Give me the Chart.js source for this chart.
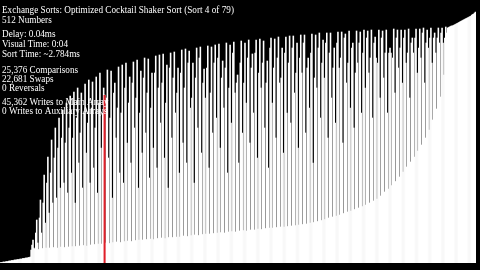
<!DOCTYPE html>
<html>
<head>
<meta charset="utf-8">
<script src="https://cdn.jsdelivr.net/npm/chart.js@4"></script>
<style>
  html, body { margin: 0; padding: 0; background: #000; }
  canvas { display: block; background: #000; }
</style>
</head>
<body>
<canvas id="sortChart" width="480" height="270"></canvas>
<script>
// sorted small values at the left end
const leftSorted = [1,1,1,2,2,2,3,3,3,4,4,4,5,5,5,6,6,6,7,7,7,8,8,8,9,9,9,10,10,10,11,11,12];

// unsorted middle part, read group by group (4 bars per group)
const lowVals = [
  26,28,27,29,30,30,31,30,32,31,
  32,33,33,34,35,34,36,37,38,38,
  40,39,41,42,41,43,44,43,45,46,
  46,47,48,47,49,50,49,51,51,52,
  52,54,53,55,56,55,57,58,58,59,
  60,61,60,62,63,62,64,65,64,66,
  66,68,67,69,70,70,71,72,72,73,
  74,75,76,77,78,80,81,83,85,87,
  90,92,94,96,99,102,104,107,110,113,
  116,120,124,128,134,142,148,155,163,172,
  182,192,202,212,224,236,250,266,286,308,
  332,376
];
const spikeVals = [
  46,86,126,176,212,246,270,290,306,320,
  334,342,350,340,358,366,362,372,380,350,
  386,384,360,392,396,400,372,402,406,384,
  410,408,380,414,416,418,396,420,422,390,
  426,428,424,400,430,432,388,434,432,436,
  438,404,440,436,442,376,444,440,446,418,
  446,448,444,404,450,448,452,430,452,454,
  454,440,456,456,410,458,456,460,446,460,
  460,430,462,462,458,464,440,464,462,466,
  464,466,452,466,464,466,430,468,466,466,
  466,468,450,468,468,470,466,470,460,470,
  470,472
];
const midAVals = [
  36,60,90,120,160,180,210,230,250,240,
  270,250,290,260,300,280,310,270,320,300,
  330,290,340,310,300,350,320,360,330,300,
  370,340,310,380,350,360,320,390,370,340,
  380,350,400,330,370,410,360,390,340,400,
  410,370,390,350,420,360,400,360,410,390,
  420,380,400,360,430,390,410,370,420,400,
  430,380,410,440,390,420,370,430,400,440,
  420,390,440,410,450,400,430,380,440,420,
  450,410,440,400,450,420,420,410,450,430,
  450,420,440,450,430,460,440,450,450,450,
  460,450
];
const midBVals = [
  30,40,60,80,100,120,130,150,160,140,
  180,120,200,150,220,160,190,140,230,336,
  210,130,250,180,160,240,200,270,150,220,
  260,170,230,190,280,210,150,250,300,180,
  240,200,310,160,270,220,330,190,260,290,
  230,310,180,280,340,200,260,320,240,300,
  210,350,270,190,320,250,360,220,300,280,
  340,230,380,260,310,200,350,290,370,250,
  330,280,390,240,360,310,270,400,300,350,
  380,290,410,330,370,300,420,340,390,360,
  400,330,420,380,410,360,430,400,420,440,
  440,460
];

// sorted large values at the right end
const rightSorted = [470,471,472,473,474,474,475,476,477,478,479,480,481,482,483,484,485,486,487,488,489,490,491,492,493,494,496,497,498,500,502];

const markedIndex = 112;

const statLines = [
  'Exchange Sorts: Optimized Cocktail Shaker Sort (Sort 4 of 79)',
  '512 Numbers',
  'Delay: 0.04ms',
  'Visual Time: 0:04',
  'Sort Time: ~2.784ms',
  '25,376 Comparisons',
  '22,681 Swaps',
  '0 Reversals',
  '45,362 Writes to Main Array',
  '0 Writes to Auxiliary Arrays'
];

// build the array as the visualizer holds it
const values = [...leftSorted];
for (let i = 0; i < lowVals.length; i++) {
  values.push(lowVals[i], midAVals[i], spikeVals[i], midBVals[i]);
}
values.push(...rightSorted);
const labels = values.map((v, i) => i);
const markData = values.map((v, i) => (i === markedIndex ? v : null));

// stats text in the top-left corner
const statsText = {
  id: 'statsText',
  afterDraw(chart) {
    const c = chart.ctx;
    const baselines = [13, 23, 37, 47, 57, 73, 82, 91, 105, 114];
    c.save();
    c.fillStyle = '#fff';
    c.font = '10.5px "Liberation Serif"';
    c.textBaseline = 'alphabetic';
    c.translate(2, 0);
    c.scale(0.875, 1);
    statLines.forEach((t, i) => c.fillText(t, 0, baselines[i]));
    c.restore();
  }
};

const ctx = document.getElementById('sortChart').getContext('2d');
new Chart(ctx, {
  type: 'bar',
  data: {
    labels: labels,
    datasets: [{
      data: values,
      backgroundColor: '#fff',
      borderWidth: 0,
      barPercentage: 1,
      categoryPercentage: 1,
      order: 1
    }, {
      data: markData,
      backgroundColor: '#e0202a',
      borderWidth: 0,
      barPercentage: 2.2,
      categoryPercentage: 1,
      grouped: false,
      order: 0
    }]
  },
  options: {
    responsive: false,
    animation: false,
    devicePixelRatio: 1,
    layout: { padding: { left: 0, right: 4, top: 0, bottom: 7 } },
    plugins: { legend: { display: false }, tooltip: { enabled: false } },
    scales: {
      x: { display: false },
      y: { display: false, min: 0, max: 526 }
    }
  },
  plugins: [statsText]
});
</script>
</body>
</html>
